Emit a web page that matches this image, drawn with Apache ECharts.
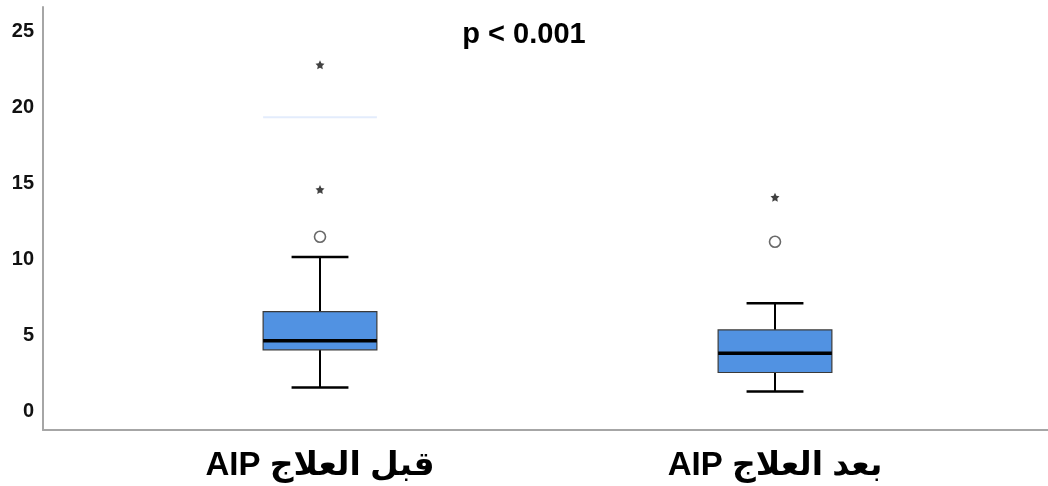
<!DOCTYPE html>
<html>
<head>
<meta charset="utf-8">
<script src="https://cdn.jsdelivr.net/npm/echarts@6/dist/echarts.min.js"></script>
<style>html,body{margin:0;padding:0;background:#fff}#c{width:1048px;height:486px}</style>
</head>
<body>
<div id="c"></div>
<script>
// Data
var categories = ['AIP قبل العلاج', 'AIP بعد العلاج'];
// [lowerWhisker, Q1, median, Q3, upperWhisker]
var boxValues = [
  [1.6, 4.07, 4.66, 6.58, 10.17],
  [1.33, 2.58, 3.85, 5.38, 7.13]
];
var outliers = [[0, 11.5], [1, 11.17]];          // circles
var extremes = [[0, 14.6], [0, 22.8], [1, 14.09]]; // stars
var faintLine = [[0, 19.35]];
var yTicks = [0, 5, 10, 15, 20, 25];
var pText = 'p < 0.001';

var chart = echarts.init(document.getElementById('c'), null, {renderer: 'canvas'});
var boxData = boxValues.map(function (b, i) { return [i].concat(b); });

chart.setOption({
  animation: false,
  title: {
    text: pText, left: 'center', top: 15,
    textStyle: {fontFamily: 'Liberation Sans, Arial, sans-serif', fontSize: 29, fontWeight: 'bold', color: '#000'}
  },
  grid: {left: 43, right: 0, top: 7, bottom: 56},
  xAxis: {
    type: 'value', min: -0.6088, max: 1.6,
    splitLine: {show: false},
    axisTick: {show: false},
    axisLine: {show: true, onZero: false, lineStyle: {color: '#a6a6a6', width: 2}},
    axisLabel: {
      customValues: [0, 1],
      formatter: function (v) { return categories[Math.round(v)]; },
      margin: 19,
      fontFamily: 'Liberation Sans, DejaVu Sans, Arial, sans-serif', fontSize: 33, fontWeight: 'bold', color: '#000'
    }
  },
  yAxis: {
    type: 'value', min: -1.2, max: 26.6,
    splitLine: {show: false},
    axisTick: {show: false},
    axisLine: {show: true, onZero: false, lineStyle: {color: '#a6a6a6', width: 2}},
    axisLabel: {
      customValues: yTicks,
      margin: 9,
      fontFamily: 'Liberation Sans, Arial, sans-serif', fontSize: 20, fontWeight: 'bold', color: '#111'
    }
  },
  series: [
    {
      type: 'custom',
      data: boxData,
      encode: {x: 0, y: [1, 2, 3, 4, 5]},
      renderItem: function (params, api) {
        var x = api.value(0);
        var w = api.size([0.25, 0])[0];
        var pLow = api.coord([x, api.value(1)]);
        var pQ1 = api.coord([x, api.value(2)]);
        var pMed = api.coord([x, api.value(3)]);
        var pQ3 = api.coord([x, api.value(4)]);
        var pHigh = api.coord([x, api.value(5)]);
        var cx = pLow[0];
        var cap = w / 4;
        var line = function (x1, y1, x2, y2, lw) {
          return {type: 'line', shape: {x1: x1, y1: y1, x2: x2, y2: y2}, style: {stroke: '#000', lineWidth: lw}};
        };
        return {
          type: 'group',
          children: [
            line(cx, pHigh[1], cx, pQ3[1], 2),
            line(cx, pQ1[1], cx, pLow[1], 2),
            line(cx - cap, pHigh[1], cx + cap, pHigh[1], 2.5),
            line(cx - cap, pLow[1], cx + cap, pLow[1], 2.5),
            {type: 'rect', shape: {x: cx - w / 2, y: pQ3[1], width: w, height: pQ1[1] - pQ3[1]},
             style: {fill: '#5192e2', stroke: '#3a3a3a', lineWidth: 1.2}},
            line(cx - w / 2, pMed[1], cx + w / 2, pMed[1], 3.5)
          ]
        };
      }
    },
    {
      type: 'custom',
      data: faintLine,
      renderItem: function (params, api) {
        var p = api.coord([api.value(0), api.value(1)]);
        var w = api.size([0.25, 0])[0];
        return {type: 'line', shape: {x1: p[0] - w / 2, y1: p[1], x2: p[0] + w / 2, y2: p[1]},
                style: {stroke: '#e3ecfc', lineWidth: 2}};
      }
    },
    {
      type: 'scatter',
      data: outliers,
      symbol: 'circle', symbolSize: 11,
      itemStyle: {color: '#fff', borderColor: '#444', borderWidth: 1.6}
    },
    {
      type: 'scatter',
      data: extremes,
      symbol: 'path://M0,-10 L2.9,-4 9.5,-3.1 4.7,1.5 5.9,8.1 0,5 -5.9,8.1 -4.7,1.5 -9.5,-3.1 -2.9,-4 Z',
      symbolSize: 9,
      itemStyle: {color: '#111'}
    }
  ]
});
</script>
</body>
</html>
